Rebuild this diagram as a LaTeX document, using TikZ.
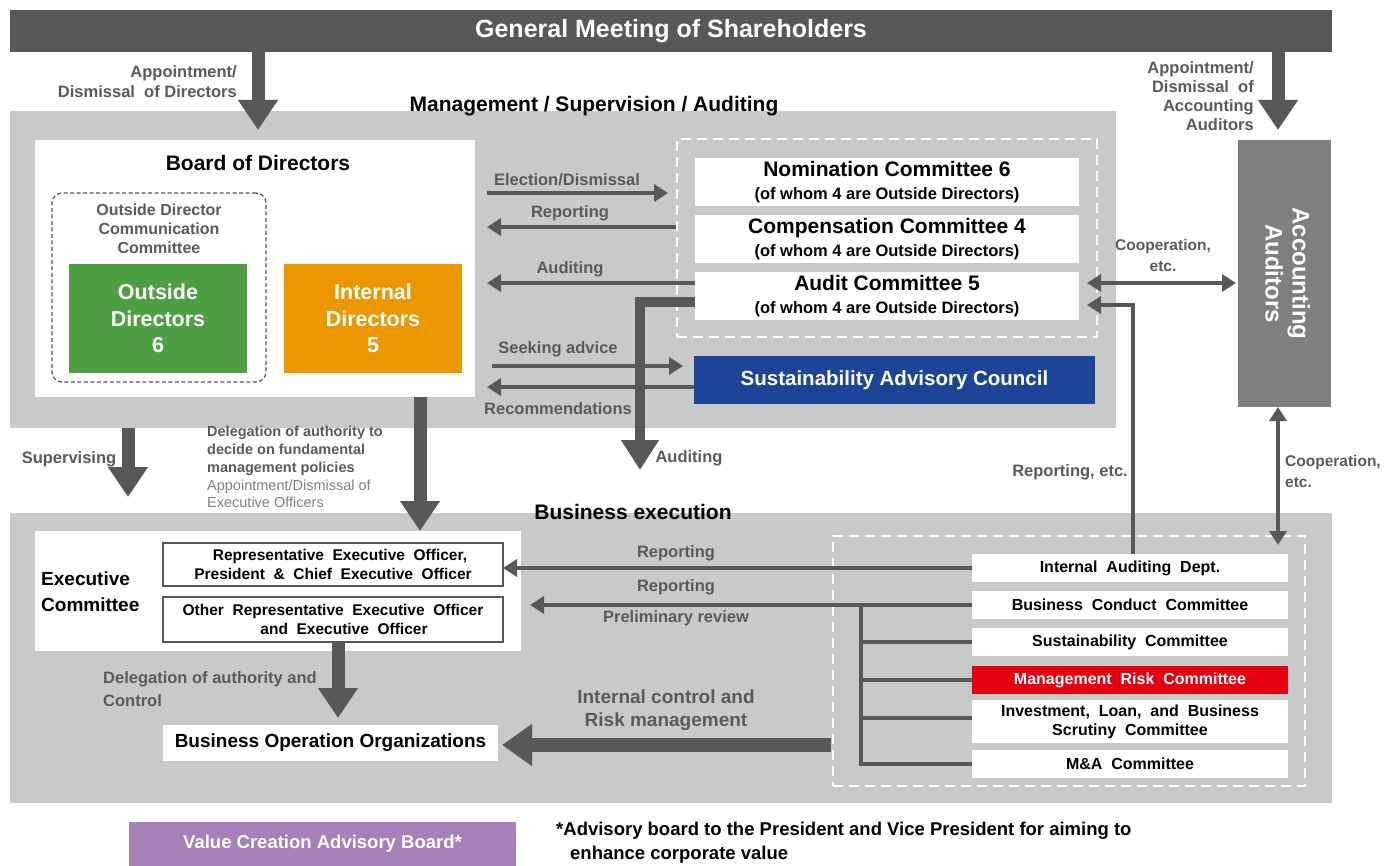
\documentclass[tikz,border=0pt]{standalone}
\usepackage{fontspec}
\setmainfont{Liberation Sans}
\newfontfamily\widefont[WordSpace=2]{Liberation Sans}
\usetikzlibrary{arrows.meta,calc}
\definecolor{dk}{HTML}{595757}
\definecolor{pnl}{HTML}{C9C9C9}
\definecolor{lab}{HTML}{5A5A5A}
\definecolor{lgt}{HTML}{808080}
\definecolor{grn}{HTML}{4E9E44}
\definecolor{org}{HTML}{EC9700}
\definecolor{blu}{HTML}{1D4597}
\definecolor{acc}{HTML}{807F80}
\definecolor{redc}{HTML}{E50012}
\definecolor{pur}{HTML}{A680B8}
\newcommand{\fsz}[2]{\fontsize{#1}{#2}\selectfont}
\begin{document}
\begin{tikzpicture}[x=1pt,y=-1pt,
  box/.style={inner sep=0pt, outer sep=0pt, anchor=center, align=center},
  lbl/.style={inner sep=0pt, text=lab, font=\bfseries\fsz{16.5}{20}, align=center},
  bigarrow/.style={draw=dk, line width=13pt, -{Triangle[width=38pt,length=30pt]}},
  auditarrow/.style={draw=dk, line width=10pt, line join=miter, -{Triangle[width=36pt,length=30pt]}},
  midarrow/.style={draw=dk, line width=4.5pt, -{Triangle[width=17pt,length=14pt]}},
  dblarrow/.style={draw=dk, line width=4pt, {Triangle[width=17pt,length=14pt]}-{Triangle[width=17pt,length=14pt]}},
  conn/.style={draw=dk, line width=4pt},
  whitebox/.style={box, fill=white},
  cbox/.style={box, fill=white, minimum width=316pt, minimum height=28pt, font=\widefont\bfseries\fsz{16}{18}},
  ccbox/.style={box, fill=white, minimum width=384pt, minimum height=48pt, font=\bfseries\fsz{21}{22.5}}
]
\useasboundingbox (0,0) rectangle (1392,866);

% ---------- General meeting ----------
\node[box, fill=dk, minimum width=1322pt, minimum height=42pt, text=white, font=\bfseries\fsz{25}{30}] (gms) at (671,31) {General Meeting of Shareholders};

% ---------- Management panel ----------
\node[box, fill=pnl, minimum width=1106pt, minimum height=317pt] (mgmt) at (563,269.5) {};
\node[box, font=\bfseries\fsz{21}{25}] (mgmtT) at (594,106) {Management / Supervision / Auditing};

\node[whitebox, minimum width=440pt, minimum height=257pt] (bod) at (255,268.5) {};
\node[box, font=\bfseries\fsz{21}{25}] (bodT) at (258,163) {Board of Directors};
\node[box, draw=dk, dashed, dash pattern=on 4pt off 2.5pt, line width=1.3pt, rounded corners=10pt, minimum width=214pt, minimum height=189pt] (odcc) at (159,287.5) {};
\node[box, text=lab, font=\bfseries\fsz{16}{19}] (odccT) at (159,229) {Outside Director\\Communication\\Committee};
\node[box, fill=grn, text=white, minimum width=178pt, minimum height=109pt, font=\bfseries\fsz{21.5}{26.5}] (outd) at (158,318.5) {Outside\\Directors\\6};
\node[box, fill=org, text=white, minimum width=178pt, minimum height=109pt, font=\bfseries\fsz{21.5}{26.5}] (intd) at (373,318.5) {Internal\\Directors\\5};

\node[box, draw=white, dashed, dash pattern=on 10pt off 6pt, line width=2.5pt, minimum width=420pt, minimum height=198pt] (cdash) at (887,238) {};
\node[ccbox] (nom) at (887,182) {Nomination Committee 6\\{\fsz{16.5}{22.5}\bfseries (of whom 4 are Outside Directors)}};
\node[ccbox] (comp) at (887,239) {Compensation Committee 4\\{\fsz{16.5}{22.5}\bfseries (of whom 4 are Outside Directors)}};
\node[ccbox] (audit) at (887,296) {Audit Committee 5\\{\fsz{16.5}{22.5}\bfseries (of whom 4 are Outside Directors)}};
\node[box, fill=blu, text=white, minimum width=401pt, minimum height=48pt, font=\bfseries\fsz{20.5}{24}] (sac) at (894.5,380) {Sustainability Advisory Council};

\node[box, fill=acc, minimum width=93pt, minimum height=267pt, text=white, font=\bfseries\fsz{24}{27}] (aa) at (1284.5,273.5) {\rotatebox{-90}{\begin{tabular}{@{}c@{}}Accounting\\Auditors\end{tabular}}};

% ---------- Business execution panel ----------
\node[box, fill=pnl, minimum width=1322pt, minimum height=290pt] (bexec) at (671,658) {};
\node[box, font=\bfseries\fsz{21}{25}] (bexecT) at (633,512) {Business execution};

\node[whitebox, minimum width=486pt, minimum height=120pt] (excom) at (278,591) {};
\node[inner sep=0pt, anchor=west, align=left, font=\bfseries\fsz{19}{26}] (excomT) at (41,592) {Executive\\Committee};
\node[whitebox, draw=dk, line width=1.5pt, minimum width=340pt, minimum height=43pt, font=\widefont\bfseries\fsz{15.5}{19}] (rep) at (333,564.5) {\hspace*{14pt}Representative Executive Officer,\\President \& Chief Executive Officer};
\node[whitebox, draw=dk, line width=1.5pt, minimum width=340pt, minimum height=45pt, font=\widefont\bfseries\fsz{15.5}{19}] (other) at (333,619.5) {Other Representative Executive Officer\\\hspace*{22pt}and Executive Officer};
\node[whitebox, minimum width=335pt, minimum height=36pt, font=\bfseries\fsz{19}{22}] (boo) at (330.5,743) {Business Operation Organizations};

\node[box, draw=white, dashed, dash pattern=on 10pt off 6pt, line width=2.5pt, minimum width=472pt, minimum height=250pt] (rdash) at (1069,661) {};
\node[cbox] (iad) at (1130,568) {Internal Auditing Dept.};
\node[cbox] (bcc) at (1130,605) {Business Conduct Committee};
\node[cbox] (sc) at (1130,642) {Sustainability Committee};
\node[cbox, fill=redc, text=white] (mrc) at (1130,680) {Management Risk Committee};
\node[cbox, minimum height=43pt, font=\widefont\bfseries\fsz{16}{19}] (ilb) at (1130,721.5) {Investment, Loan, and Business\\Scrutiny Committee};
\node[cbox] (ma) at (1130,764) {M\&A Committee};

% ---------- bottom ----------
\node[box, fill=pur, text=white, minimum width=387pt, minimum height=44pt, font=\bfseries\fsz{18.5}{22}] (vcab) at (322.5,844) {Value Creation Advisory Board*};
\node[inner sep=0pt, anchor=west, align=left, font=\bfseries\fsz{18.5}{24}] (foot) at (556,843) {*Advisory board to the President and Vice President for aiming to\\\hspace*{14pt}enhance corporate value};

% ---------- connectors ----------
\draw[bigarrow, shorten >=10pt] (258,0 |- gms.south) -- (258,0 |- bod.north);
\draw[bigarrow, shorten >=10pt] (1278,0 |- gms.south) -- (1278,0 |- aa.north);
\draw[bigarrow, shorten >=16pt] (128,0 |- mgmt.south) -- (128,0 |- bexec.north);
\draw[bigarrow] (420,0 |- bod.south) -- (420,0 |- excom.north);
\draw[auditarrow, shorten >=43pt] ($(audit.west)+(0,6)$) -| (640,0 |- bexec.north);

\draw[midarrow] ($(bod.east |- nom.west)+(12,11)$) -- ($(nom.west)+(-27,11)$);
\draw[midarrow] ($(comp.west)+(-19,-12)$) -- ($(bod.east |- comp.west)+(12,-12)$);
\draw[midarrow] ($(audit.west)+(0,-13)$) -- ($(bod.east |- audit.west)+(12,-13)$);
\draw[midarrow] ($(bod.east |- sac.west)+(17,-14)$) -- ($(sac.west)+(-11,-14)$);
\draw[midarrow] ($(sac.west)+(0,7)$) -- ($(bod.east |- sac.west)+(12,7)$);

\draw[dblarrow] ($(audit.east)+(8,-13)$) -- ($(aa.west |- audit.east)+(-2,-13)$);
\draw[midarrow, line width=4pt] (1133,0 |- iad.north) |- ($(audit.east)+(8,9)$);
\draw[dblarrow, shorten >=9pt] (1278,0 |- aa.south) -- (1278,0 |- iad.north);

\draw[midarrow, line width=4pt] (iad.west) -- (rep.east |- iad.west);
\draw[midarrow, line width=4pt] (bcc.west) -- ($(excom.east |- bcc.west)+(9,0)$);
\draw[conn, line join=miter] (861,0 |- bcc.west) -- (861,0 |- ma.west) -- (ma.west);
\draw[conn] (861,0 |- sc.west) -- (sc.west);
\draw[conn] (861,0 |- mrc.west) -- (mrc.west);
\draw[conn] ($(861,0 |- ilb.west)+(0,-3.5)$) -- ($(ilb.west)+(0,-3.5)$);

\draw[bigarrow, shorten >=7pt] (338,0 |- other.south) -- (338,0 |- boo.north);
\draw[bigarrow, line width=14pt, -{Triangle[width=40pt,length=30pt]}] ($(rdash.west |- boo.east)+(-2,2)$) -- ($(boo.east)+(4,2)$);

% ---------- labels ----------
\node[lbl, anchor=east, align=right, font=\bfseries\fsz{16.5}{20}] (lAppD) at (237,82) {Appointment/\\Dismissal\ \ of Directors};
\node[lbl, anchor=east, align=right, font=\bfseries\fsz{16.5}{19}] (lAppA) at (1254,96) {Appointment/\\Dismissal\ \ of\\Accounting\\Auditors};
\node[lbl] (lElect) at (567,180) {Election/Dismissal};
\node[lbl] (lRep1) at (570,213) {Reporting};
\node[lbl] (lAud1) at (570,269) {Auditing};
\node[lbl] (lSeek) at (558,349) {Seeking\ advice};
\node[lbl] (lRec) at (558,409) {Recommendations};
\node[lbl, font=\bfseries\fsz{15.5}{21}] (lCoop1) at (1163,255) {Cooperation,\\etc.};
\node[lbl] (lAud2) at (689,458) {Auditing};
\node[lbl, anchor=east] (lRepEtc) at (1128,472) {Reporting, etc.};
\node[lbl, anchor=west, align=left, font=\bfseries\fsz{15.5}{21}] (lCoop2) at (1285,471) {Cooperation,\\etc.};
\node[lbl] (lSup) at (69,459) {Supervising};
\node[lbl, anchor=north west, align=left, font=\bfseries\fsz{14.5}{17.8}] (lDeleg) at (207,426) {Delegation of authority to\\decide on fundamental\\management policies\\{\mdseries\color{lgt}Appointment/Dismissal of}\\{\mdseries\color{lgt}Executive Officers}};
\node[lbl] (lRep2) at (676,553) {Reporting};
\node[lbl] (lRep3) at (676,587) {Reporting};
\node[lbl] (lPre) at (676,618) {Preliminary\ review};
\node[lbl, anchor=west, align=left, font=\bfseries\fsz{16.5}{23}] (lDel2) at (103,689) {Delegation\ of authority and\\Control};
\node[lbl, font=\bfseries\fsz{19}{23}] (lIC) at (666,710) {Internal control and\\Risk management};
\end{tikzpicture}
\end{document}
